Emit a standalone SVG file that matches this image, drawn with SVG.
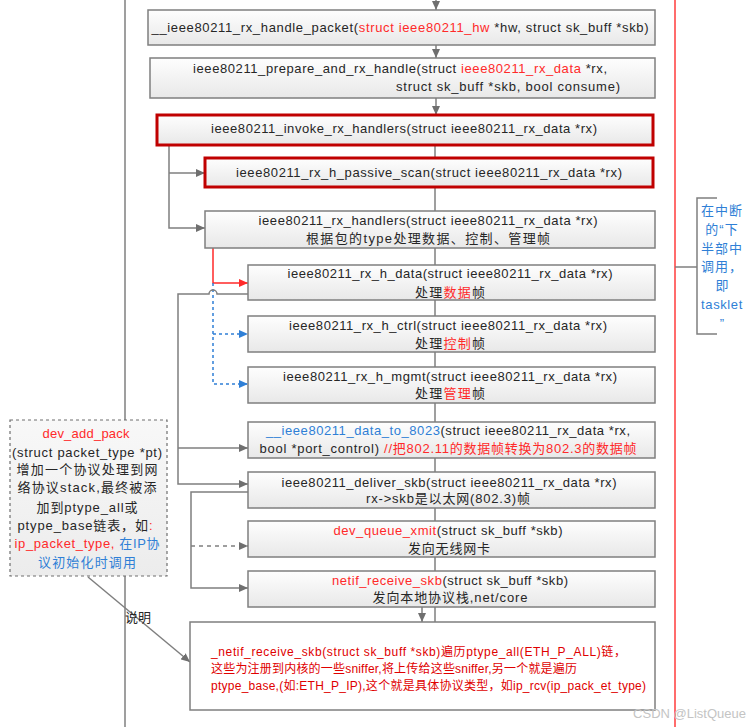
<svg xmlns="http://www.w3.org/2000/svg" width="755" height="727" viewBox="0 0 755 727">
<style>
.bx{fill:url(#g);stroke:#7f7f7f;stroke-width:1.5}
.rb{fill:url(#g);stroke:#c00000;stroke-width:3}
.t{font-family:"Liberation Sans","Noto Sans CJK SC",sans-serif;font-size:13px;fill:#262626;text-anchor:middle}
.r{fill:#ff2a2a}
.b{fill:#2f7fd6}
.ln{fill:none;stroke:#7f7f7f;stroke-width:1.5}
.nt{font-family:"Liberation Sans","Noto Sans CJK SC",sans-serif;font-size:12px;fill:#e00000}
</style>
<defs>
<linearGradient id="g" x1="0" y1="0" x2="0" y2="1"><stop offset="0" stop-color="#fefefe"/><stop offset="1" stop-color="#e8e8e8"/></linearGradient>
<linearGradient id="gn" x1="0" y1="0" x2="0" y2="1"><stop offset="0" stop-color="#f8f8f8"/><stop offset="1" stop-color="#ececec"/></linearGradient>
<marker id="a" markerUnits="userSpaceOnUse" markerWidth="9" markerHeight="8" refX="9" refY="4" orient="auto"><path d="M0,0 L9,4 L0,8 z" fill="#6f6f6f"/></marker>
<marker id="ar" markerUnits="userSpaceOnUse" markerWidth="9" markerHeight="8" refX="9" refY="4" orient="auto"><path d="M0,0 L9,4 L0,8 z" fill="#ff2a2a"/></marker>
<marker id="ab" markerUnits="userSpaceOnUse" markerWidth="9" markerHeight="8" refX="9" refY="4" orient="auto"><path d="M0,0 L9,4 L0,8 z" fill="#2f7fd6"/></marker>
</defs>
<rect width="755" height="727" fill="#ffffff"/>
<g id="connectors">
<path class="ln" d="M125,0 V727"/>
<path d="M675,0 V727" fill="none" stroke="#ff3b3b" stroke-width="1.5"/>
<path class="ln" d="M675,267 H697"/>
<path class="ln" d="M717,198 H697 V334 H717"/>
<path class="ln" d="M436,0 V10" marker-end="url(#a)"/>
<path class="ln" d="M436,45 V58" marker-end="url(#a)"/>
<path class="ln" d="M436,98 V115" marker-end="url(#a)"/>
<path class="ln" d="M435,145 V622"/>
<path class="ln" d="M422,607 V622" marker-end="url(#a)"/>
<path class="ln" d="M169,145 V228 H205" marker-end="url(#a)"/>
<path class="ln" d="M169,173 H205" marker-end="url(#a)"/>
<path d="M213,248 V283 H248" fill="none" stroke="#ff2a2a" stroke-width="1.5" marker-end="url(#ar)"/>
<path d="M213,283 V384 H248" fill="none" stroke="#2f7fd6" stroke-width="1.5" stroke-dasharray="3,3" marker-end="url(#ab)"/>
<path d="M213,334 H248" fill="none" stroke="#2f7fd6" stroke-width="1.5" stroke-dasharray="3,3" marker-end="url(#ab)"/>
<path class="ln" d="M248,294 H217 A4,4 0 0 0 209,294 H178 V484 H248" marker-end="url(#a)"/>
<path class="ln" d="M178,448 H248" marker-end="url(#a)"/>
<path class="ln" d="M248,492 H191 V588 H248" marker-end="url(#a)"/>
<path class="ln" d="M191,546 H248" stroke-dasharray="4,4" marker-end="url(#a)"/>
<path class="ln" d="M88,577 L190,662" marker-end="url(#a)"/>
</g>
<g id="n1"><rect class="bx" x="148" y="10" width="507" height="35"/>
<text class="t" x="400" y="32" textLength="497">__ieee80211_rx_handle_packet(<tspan class="r">struct ieee80211_hw</tspan> *hw, struct sk_buff *skb)</text></g>
<g id="n2"><rect class="bx" x="150" y="58" width="505" height="40"/>
<text class="t" x="400" y="73" textLength="414">ieee80211_prepare_and_rx_handle(struct <tspan class="r">ieee80211_rx_data</tspan> *rx,</text>
<text class="t" x="396" y="91" textLength="224" style="text-anchor:start">struct sk_buff *skb, bool consume)</text></g>
<g id="n3"><rect class="rb" x="157" y="115" width="496" height="30"/>
<text class="t" x="404" y="133" textLength="386">ieee80211_invoke_rx_handlers(struct ieee80211_rx_data *rx)</text></g>
<g id="n4"><rect class="rb" x="205" y="158" width="448" height="29"/>
<text class="t" x="429" y="177" textLength="386">ieee80211_rx_h_passive_scan(struct ieee80211_rx_data *rx)</text></g>
<g id="n5"><rect class="bx" x="205" y="211" width="450" height="37"/>
<text class="t" x="428" y="225" textLength="339">ieee80211_rx_handlers(struct ieee80211_rx_data *rx)</text>
<text class="t" x="428" y="243" textLength="244">根据包的type处理数据、控制、管理帧</text></g>
<g id="n6"><rect class="bx" x="248" y="265" width="407" height="35"/>
<text class="t" x="450" y="278" textLength="325">ieee80211_rx_h_data(struct ieee80211_rx_data *rx)</text>
<text class="t" x="450" y="297" textLength="70">处理<tspan class="r">数据</tspan>帧</text></g>
<g id="n7"><rect class="bx" x="248" y="316" width="407" height="36"/>
<text class="t" x="448" y="330" textLength="318">ieee80211_rx_h_ctrl(struct ieee80211_rx_data *rx)</text>
<text class="t" x="450" y="348" textLength="70">处理<tspan class="r">控制</tspan>帧</text></g>
<g id="n8"><rect class="bx" x="248" y="367" width="407" height="36"/>
<text class="t" x="450" y="381" textLength="334">ieee80211_rx_h_mgmt(struct ieee80211_rx_data *rx)</text>
<text class="t" x="450" y="398" textLength="70">处理<tspan class="r">管理</tspan>帧</text></g>
<g id="n9"><rect class="bx" x="248" y="422" width="407" height="36"/>
<text class="t" x="448" y="435" textLength="364"><tspan class="b">__ieee80211_data_to_8023</tspan>(struct ieee80211_rx_data *rx,</text>
<text class="t" x="448" y="453" textLength="377">bool *port_control) <tspan class="r">//把802.11的数据帧转换为802.3的数据帧</tspan></text></g>
<g id="n10"><rect class="bx" x="248" y="472" width="407" height="36"/>
<text class="t" x="449" y="487" textLength="335">ieee80211_deliver_skb(struct ieee80211_rx_data *rx)</text>
<text class="t" x="448" y="503" textLength="164">rx-&gt;skb是以太网(802.3)帧</text></g>
<g id="n11"><rect class="bx" x="248" y="521" width="407" height="36"/>
<text class="t" x="448" y="535" textLength="229"><tspan class="r">dev_queue_xmit</tspan>(struct sk_buff *skb)</text>
<text class="t" x="449" y="553" textLength="82">发向无线网卡</text></g>
<g id="n12"><rect class="bx" x="248" y="571" width="407" height="36"/>
<text class="t" x="450" y="585" textLength="236"><tspan class="r">netif_receive_skb</tspan>(struct sk_buff *skb)</text>
<text class="t" x="450" y="602" textLength="155">发向本地协议栈,net/core</text></g>
<g id="n13"><rect x="190" y="622" width="465" height="88" fill="#ffffff" stroke="#7f7f7f" stroke-width="1.5"/>
<text class="nt" x="211" y="656" textLength="415">_netif_receive_skb(struct sk_buff *skb)遍历ptype_all(ETH_P_ALL)链，</text>
<text class="nt" x="211" y="673" textLength="366">这些为注册到内核的一些sniffer,将上传给这些sniffer,另一个就是遍历</text>
<text class="nt" x="211" y="690" textLength="435">ptype_base,(如:ETH_P_IP),这个就是具体协议类型，如ip_rcv(ip_pack_et_type)</text>
</g>
<g id="note-left"><rect x="10" y="420" width="157" height="156" fill="url(#gn)" stroke="#6f6f6f" stroke-width="1.2" stroke-dasharray="3,3"/>
<text class="t r" x="86" y="438" textLength="87">dev_add_pack</text>
<text class="t" x="87" y="457" textLength="150">(struct packet_type *pt)</text>
<text class="t" x="87" y="474" textLength="141">增加一个协议处理到网</text>
<text class="t" x="87" y="492" textLength="139">络协议stack,最终被添</text>
<text class="t" x="87" y="512" textLength="101">加到ptype_all或</text>
<text class="t" x="85" y="530" textLength="135">ptype_base链表，如<tspan class="r">:</tspan></text>
<text class="t" x="87" y="548" textLength="145"><tspan class="r">ip_packet_type, </tspan><tspan class="b">在IP协</tspan></text>
<text class="t b" x="87" y="567" textLength="98">议初始化时调用</text></g>
<g id="label-shuoming"><text class="t" x="138" y="622">说明</text></g>
<g id="note-right">
<text class="t b" x="722" y="215" style="letter-spacing:1px">在中断</text>
<text class="t b" x="722" y="234" style="letter-spacing:1px">的“下</text>
<text class="t b" x="722" y="253" style="letter-spacing:1px">半部中</text>
<text class="t b" x="722" y="271" style="letter-spacing:1px">调用，</text>
<text class="t b" x="722" y="290">即</text>
<text class="t b" x="722" y="309" style="letter-spacing:0.6px">tasklet</text>
<text class="t b" x="722" y="328">”</text>
</g>
<text x="746" y="718" style="font-family:'Liberation Sans',sans-serif;font-size:13px;fill:#c4c4c4;text-anchor:end">CSDN @ListQueue</text>
</svg>
